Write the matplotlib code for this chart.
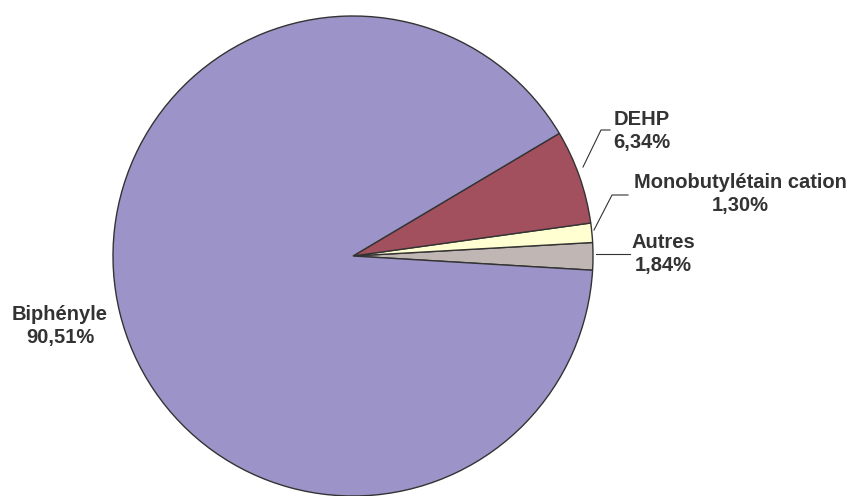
import matplotlib.pyplot as plt

plt.rcParams['font.family'] = ['Liberation Sans', 'DejaVu Sans']

# données (ordre anti-horaire à partir du bas de "Autres")
labels = ['Autres', 'Monobutylétain cation', 'DEHP', 'Biphényle']
values = [1.84, 1.30, 6.34, 90.51]
value_text = ['1,84%', '1,30%', '6,34%', '90,51%']
colors = ['#C0B7B5', '#FFFFD2', '#A3505E', '#9C94C8']

W, H = 850, 496
fig = plt.figure(figsize=(W / 100, H / 100), dpi=100)
ax = fig.add_axes([0, 0, 1, 1])

cx, cy, r = 353, H - 256, 240
ax.pie(values, colors=colors, startangle=-3.4, counterclock=True,
       center=(cx, cy), radius=r, frame=True,
       wedgeprops=dict(edgecolor='#333333', linewidth=1.0))
ax.set_xlim(0, W)
ax.set_ylim(0, H)
ax.set_aspect('equal')
ax.axis('off')

# lignes de rappel (coordonnées en pixels, y vers le bas)
def leader(pts):
    xs = [p[0] for p in pts]
    ys = [H - p[1] for p in pts]
    ax.plot(xs, ys, color='#333333', lw=0.8)

leader([(583, 167), (601, 130), (610, 130)])
leader([(594, 230), (612, 195), (628, 195)])
leader([(596, 254), (630, 254)])

fs = 14.5
kw = dict(fontsize=fs, fontweight='bold', color='#333333',
          ha='center', va='center', linespacing=1.3)
ax.text(642, H - 131, 'DEHP\n' + value_text[2], **kw)
ax.text(740, H - 194, labels[1] + '\n' + value_text[1], **kw)
ax.text(663, H - 254, 'Autres\n' + value_text[0], **kw)
ax.text(60, H - 326, labels[3] + '\n' + value_text[3], **kw)

fig.savefig('out.png', dpi=100)
